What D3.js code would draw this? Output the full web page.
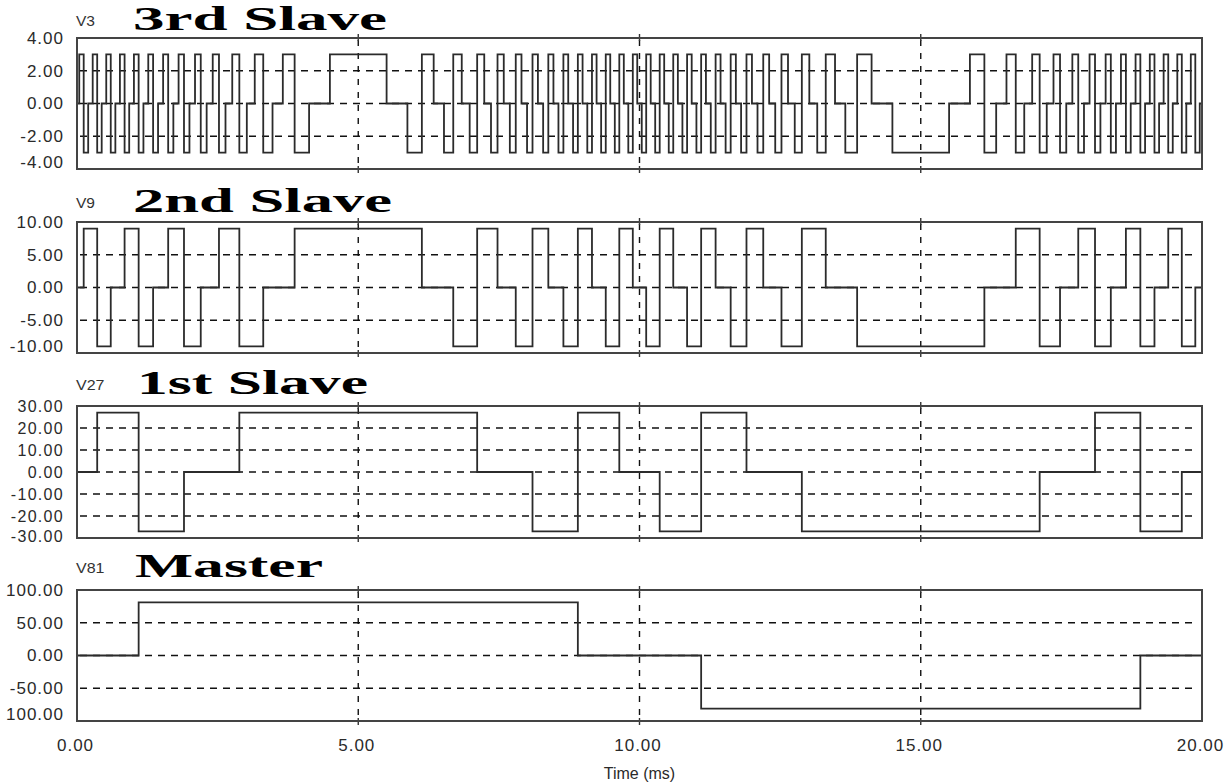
<!DOCTYPE html>
<html><head><meta charset="utf-8">
<script src="https://cdn.jsdelivr.net/npm/d3@7/dist/d3.min.js"></script>
<style>body{margin:0;background:#fff}svg{display:block}</style>
</head><body>
<svg id="c" width="1225" height="784"></svg>
<script>
// ---------- data ----------
const timeTicks = [0, 5, 10, 15, 20];
const timeTickLabels = ["0.00", "5.00", "10.00", "15.00", "20.00"];
const timeLabel = "Time (ms)";

const panelTitles = ["3rd Slave", "2nd Slave", "1st Slave", "Master"];
const panelNames = ["V3", "V9", "V27", "V81"];

const v3Ticks = [4, 2, 0, -2, -4];
const v3TickLabels = ["4.00", "2.00", "0.00", "-2.00", "-4.00"];
const v9Ticks = [10, 5, 0, -5, -10];
const v9TickLabels = ["10.00", "5.00", "0.00", "-5.00", "-10.00"];
const v27Ticks = [30, 20, 10, 0, -10, -20, -30];
const v27TickLabels = ["30.00", "20.00", "10.00", "0.00", "-10.00", "-20.00", "-30.00"];
const v81Ticks = [100, 50, 0, -50, -100];
const v81TickLabels = ["100.00", "50.00", "0.00", "-50.00", "100.00"];

// switching instants (ms) and the level held from each instant on
const v3Times = [0, 0.040, 0.119, 0.199, 0.279, 0.359, 0.439, 0.520, 0.600, 0.682, 0.763, 0.846, 0.928, 1.012, 1.096, 1.181, 1.267, 1.353, 1.441, 1.531, 1.621, 1.713, 1.806, 1.902, 1.999, 2.098, 2.200, 2.305, 2.413, 2.524, 2.640, 2.760, 2.886, 3.019, 3.160, 3.311, 3.476, 3.659, 3.869, 4.126, 4.496,
  5.504, 5.874, 6.131, 6.341, 6.524, 6.689, 6.840, 6.981, 7.114, 7.240, 7.360, 7.476, 7.587, 7.695, 7.800, 7.902, 8.001, 8.098, 8.194, 8.287, 8.379, 8.470, 8.559, 8.647, 8.733, 8.819, 8.904, 8.988, 9.072, 9.155, 9.237, 9.318, 9.400, 9.480, 9.561, 9.641, 9.721, 9.801, 9.881, 9.960,
  10.040, 10.119, 10.199, 10.279, 10.359, 10.439, 10.520, 10.600, 10.682, 10.763, 10.846, 10.928, 11.012, 11.096, 11.181, 11.267, 11.353, 11.441, 11.531, 11.621, 11.713, 11.806, 11.902, 11.999, 12.098, 12.200, 12.305, 12.413, 12.524, 12.640, 12.760, 12.886, 13.019, 13.160, 13.311, 13.476, 13.659, 13.869, 14.126, 14.496,
  15.504, 15.874, 16.131, 16.341, 16.524, 16.689, 16.840, 16.981, 17.114, 17.240, 17.360, 17.476, 17.587, 17.695, 17.800, 17.902, 18.001, 18.098, 18.194, 18.287, 18.379, 18.470, 18.559, 18.647, 18.733, 18.819, 18.904, 18.988, 19.072, 19.155, 19.237, 19.318, 19.400, 19.480, 19.561, 19.641, 19.721, 19.801, 19.881, 19.960];
const v3Levels = [0, 3, -3, 0, 3, -3, 0, 3, -3, 0, 3, -3, 0, 3, -3, 0, 3, -3, 0, 3, -3, 0, 3, -3, 0, 3, -3, 0, 3, -3, 0, 3, -3, 0, 3, -3, 0, 3, -3, 0, 3,
  0, -3, 3, 0, -3, 3, 0, -3, 3, 0, -3, 3, 0, -3, 3, 0, -3, 3, 0, -3, 3, 0, -3, 3, 0, -3, 3, 0, -3, 3, 0, -3, 3, 0, -3, 3, 0, -3, 3, 0,
  -3, 3, 0, -3, 3, 0, -3, 3, 0, -3, 3, 0, -3, 3, 0, -3, 3, 0, -3, 3, 0, -3, 3, 0, -3, 3, 0, -3, 3, 0, -3, 3, 0, -3, 3, 0, -3, 3, 0, -3,
  0, 3, -3, 0, 3, -3, 0, 3, -3, 0, 3, -3, 0, 3, -3, 0, 3, -3, 0, 3, -3, 0, 3, -3, 0, 3, -3, 0, 3, -3, 0, 3, -3, 0, 3, -3, 0, 3, -3, 0];

const v9Times = [0, 0.119, 0.359, 0.600, 0.846, 1.096, 1.353, 1.621, 1.902, 2.200, 2.524, 2.886, 3.311, 3.869,
  6.131, 6.689, 7.114, 7.476, 7.800, 8.098, 8.379, 8.647, 8.904, 9.155, 9.400, 9.641, 9.881,
  10.119, 10.359, 10.600, 10.846, 11.096, 11.353, 11.621, 11.902, 12.200, 12.524, 12.886, 13.311, 13.869,
  16.131, 16.689, 17.114, 17.476, 17.800, 18.098, 18.379, 18.647, 18.904, 19.155, 19.400, 19.641, 19.881];
const v9Levels = [0, 9, -9, 0, 9, -9, 0, 9, -9, 0, 9, -9, 0, 9,
  0, -9, 9, 0, -9, 9, 0, -9, 9, 0, -9, 9, 0,
  -9, 9, 0, -9, 9, 0, -9, 9, 0, -9, 9, 0, -9,
  0, 9, -9, 0, 9, -9, 0, 9, -9, 0, 9, -9, 0];

const v27Times = [0, 0.359, 1.096, 1.902, 2.886, 7.114, 8.098, 8.904, 9.641, 10.359, 11.096, 11.902, 12.886, 17.114, 18.098, 18.904, 19.641];
const v27Levels = [0, 27, -27, 0, 27, 0, -27, 27, 0, -27, 27, 0, -27, 0, 27, -27, 0];

const v81Times = [0, 1.096, 8.904, 11.096, 18.904];
const v81Levels = [0, 81, 0, -81, 0];

const tEnd = 20;

// ---------- layout ----------
const panels = [
  {ticks: v3Ticks, labels: v3TickLabels, times: v3Times, levels: v3Levels, top: 38, bottom: 169, titleBase: 30, titleX: 133, titleW: 254, lastShift: 6},
  {ticks: v9Ticks, labels: v9TickLabels, times: v9Times, levels: v9Levels, top: 222, bottom: 353, titleBase: 212, titleX: 133, titleW: 259, lastShift: 6},
  {ticks: v27Ticks, labels: v27TickLabels, times: v27Times, levels: v27Levels, top: 406, bottom: 538, titleBase: 394, titleX: 137, titleW: 231, lastShift: 1},
  {ticks: v81Ticks, labels: v81TickLabels, times: v81Times, levels: v81Levels, top: 590, bottom: 721, titleBase: 577, titleX: 135, titleW: 188, lastShift: 6}
];

const svg = d3.select("#c");
const x = d3.scaleLinear().domain([0, tEnd]).range([77, 1202]);
const [x0, x1] = x.range();
const labelFont = "'Liberation Sans', Arial, sans-serif";

panels.forEach((p, i) => {
  const y = d3.scaleLinear().domain(d3.extent(p.ticks)).range([p.bottom, p.top]);
  const g = svg.append("g");

  // grid: horizontal dashed (inner ticks)
  const inner = p.ticks.slice(1, -1);
  g.selectAll("line.hg").data(inner).join("line")
    .attr("x1", x0 + 3).attr("x2", x1 - 4)
    .attr("y1", d => y(d)).attr("y2", d => y(d))
    .attr("stroke", "#111").attr("stroke-width", 1.4)
    .attr("stroke-dasharray", "7,6");
  // vertical dashed
  const vt = timeTicks.slice(1, -1);
  g.selectAll("line.vg").data(vt).join("line")
    .attr("x1", d => x(d)).attr("x2", d => x(d))
    .attr("y1", p.top + 2).attr("y2", p.bottom - 2)
    .attr("stroke", "#111").attr("stroke-width", 1.4)
    .attr("stroke-dasharray", "6,7");
  // small ticks through top/bottom edges
  vt.forEach(d => {
    [[p.top - 4, p.top + 3], [p.bottom - 3, p.bottom + 4]].forEach(([a, b]) =>
      g.append("line").attr("x1", x(d)).attr("x2", x(d)).attr("y1", a).attr("y2", b)
        .attr("stroke", "#333").attr("stroke-width", 1.4));
  });

  // waveform
  const pts = p.times.map((t, k) => [t, p.levels[k]]);
  pts.push([tEnd, p.levels[p.levels.length - 1]]);
  const line = d3.line().x(d => x(d[0])).y(d => y(d[1])).curve(d3.curveStepAfter);
  g.append("path").attr("d", line(pts))
    .attr("fill", "none").attr("stroke", "#2b2b2b").attr("stroke-width", 1.8)
    .attr("stroke-linejoin", "miter");

  // box
  g.append("rect").attr("x", x0).attr("y", p.top)
    .attr("width", x1 - x0).attr("height", p.bottom - p.top)
    .attr("fill", "none").attr("stroke", "#444").attr("stroke-width", 2);

  // y axis labels
  const ax = d3.axisLeft(y).tickValues(p.ticks)
    .tickFormat((d, k) => p.labels[k]).tickSize(0).tickPadding(13);
  const ag = g.append("g").attr("transform", `translate(${x0},0)`).call(ax);
  ag.select(".domain").remove();
  ag.selectAll("text").attr("font-family", labelFont).attr("font-size", p.ticks.length > 5 ? 16 : 17)
    .attr("letter-spacing", p.ticks.length > 5 ? "1.3px" : "1px").attr("fill", "#2a2a2a");
  ag.selectAll(".tick").filter((d, k) => k === p.ticks.length - 1)
    .attr("transform", `translate(0,${y(p.ticks[p.ticks.length - 1]) - p.lastShift})`);

  // name + title
  g.append("text").attr("x", 76).attr("y", p.titleBase - 4).text(panelNames[i])
    .attr("font-family", labelFont).attr("font-size", 15).attr("fill", "#333")
    .attr("textLength", panelNames[i].length * 9.5).attr("lengthAdjust", "spacingAndGlyphs");
  g.append("text").attr("x", p.titleX).attr("y", p.titleBase).text(panelTitles[i])
    .attr("font-family", "'Liberation Serif', 'Times New Roman', serif")
    .attr("font-weight", "bold").attr("font-size", 33).attr("fill", "#000")
    .attr("textLength", p.titleW).attr("lengthAdjust", "spacingAndGlyphs");
});

// x axis
const xa = d3.axisBottom(x).tickValues(timeTicks)
  .tickFormat((d, k) => timeTickLabels[k]).tickSize(0).tickPadding(0);
const xg = svg.append("g").attr("transform", "translate(-2,739)").call(xa);
xg.select(".domain").remove();
xg.selectAll("text").attr("font-family", labelFont).attr("font-size", 17)
  .attr("letter-spacing", "1px").attr("fill", "#2a2a2a");

svg.append("text").attr("x", x(10)).attr("y", 779).attr("text-anchor", "middle")
  .text(timeLabel).attr("font-family", labelFont).attr("font-size", 16).attr("fill", "#2a2a2a");
</script>
</body></html>
